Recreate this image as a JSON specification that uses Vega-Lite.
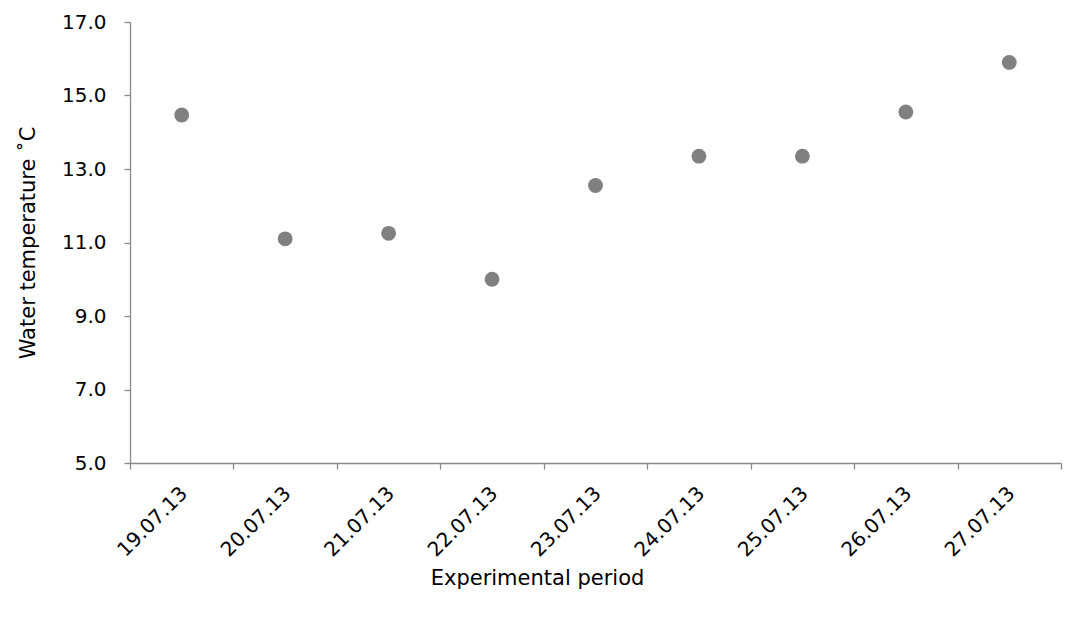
{
  "$schema": "https://vega.github.io/schema/vega-lite/v6.json",
  "width": 931,
  "height": 441,
  "autosize": "none",
  "padding": {"left": 130, "top": 22, "right": 11, "bottom": 154},
  "background": "white",
  "config": {
    "view": {"stroke": null},
    "font": "DejaVu Sans"
  },
  "data": {
    "values": [
      {"date": "19.07.13", "temp": 14.47},
      {"date": "20.07.13", "temp": 11.1},
      {"date": "21.07.13", "temp": 11.25},
      {"date": "22.07.13", "temp": 10.0},
      {"date": "23.07.13", "temp": 12.55},
      {"date": "24.07.13", "temp": 13.35},
      {"date": "25.07.13", "temp": 13.35},
      {"date": "26.07.13", "temp": 14.55},
      {"date": "27.07.13", "temp": 15.9}
    ]
  },
  "mark": {"type": "point", "filled": true, "size": 220, "color": "#808080", "opacity": 1},
  "encoding": {
    "x": {
      "field": "date",
      "type": "ordinal",
      "sort": null,
      "scale": {"paddingInner": 0, "paddingOuter": 0},
      "axis": {
        "title": "Experimental period",
        "titleX": 407,
        "titleY": 104,
        "titleFontSize": 21,
        "titleFontWeight": "normal",
        "titleColor": "#000000",
        "labelAngle": -45,
        "labelFontSize": 20,
        "labelColor": "#000000",
        "labelPadding": 14,
        "labelOffset": -5,
        "tickBand": "extent",
        "tickSize": 6,
        "tickColor": "#898989",
        "domainColor": "#898989",
        "domainWidth": 1.3,
        "tickWidth": 1.3,
        "grid": false
      }
    },
    "y": {
      "field": "temp",
      "type": "quantitative",
      "scale": {"domain": [5, 17], "nice": false, "zero": false},
      "axis": {
        "title": "Water temperature \u02daC",
        "values": [5, 7, 9, 11, 13, 15, 17],
        "format": ".1f",
        "titleFontSize": 21,
        "titleFontWeight": "normal",
        "titleColor": "#000000",
        "titlePadding": 23,
        "labelFontSize": 20,
        "labelColor": "#000000",
        "labelPadding": 18,
        "tickSize": 6,
        "tickColor": "#898989",
        "domainColor": "#898989",
        "domainWidth": 1.3,
        "tickWidth": 1.3,
        "grid": false
      }
    }
  }
}
